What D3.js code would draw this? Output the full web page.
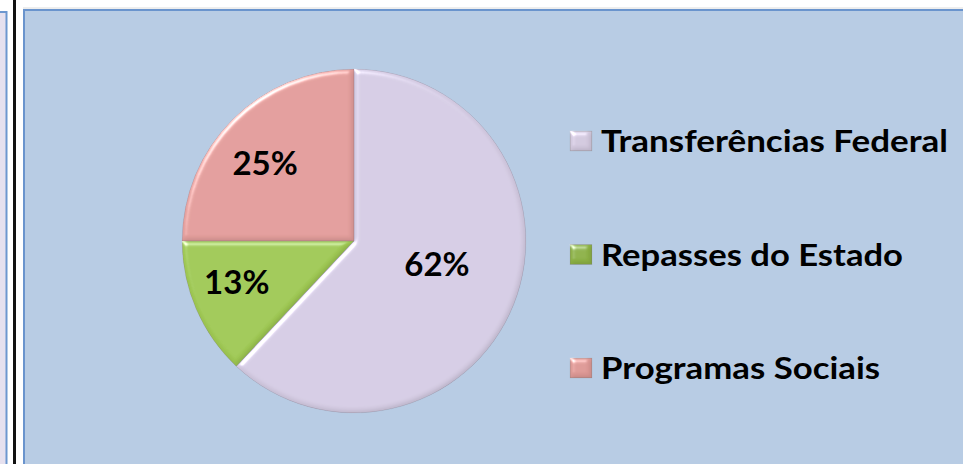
<!DOCTYPE html>
<html>
<head>
<meta charset="utf-8">
<script src="https://cdn.jsdelivr.net/npm/d3@7"></script>
<style>
  html, body { margin: 0; padding: 0; background: #ffffff; }
  svg { display: block; }
  text { font-family: Lato, "Open Sans", sans-serif; font-weight: 700; }
</style>
</head>
<body>
<div id="chart"></div>
<script>
// chart data
const categories = ["Transferências Federal", "Repasses do Estado", "Programas Sociais"]
const values = [62, 13, 25]
const percentLabels = ["62%", "13%", "25%"]
const sliceColors = ["#d9d0e8", "#a2cc55", "#e6a09e"]
const legendColors = ["#d6cce2", "#8fb446", "#e19b98"]

const width = 963
const height = 464

const svg = d3.select("#chart").append("svg")
  .attr("width", width)
  .attr("height", height)

const defs = svg.append("defs")

// bevel look like the office chart style: light on upper-left edges only
const bevel = defs.append("filter").attr("id", "bevel")
  .attr("x", "-5%").attr("y", "-5%").attr("width", "110%").attr("height", "110%")
bevel.append("feGaussianBlur").attr("in", "SourceAlpha").attr("stdDeviation", 2.5).attr("result", "blur")
const spec = bevel.append("feSpecularLighting")
  .attr("in", "blur").attr("surfaceScale", 3).attr("specularConstant", 0.7)
  .attr("specularExponent", 30).attr("lighting-color", "#ffffff").attr("result", "spec")
spec.append("feDistantLight").attr("azimuth", 235).attr("elevation", 35)
bevel.append("feComposite").attr("in", "spec").attr("in2", "SourceAlpha").attr("operator", "in").attr("result", "specOut")
// darker rim on the far side
const diff = bevel.append("feDiffuseLighting")
  .attr("in", "blur").attr("surfaceScale", 3).attr("diffuseConstant", 1)
  .attr("lighting-color", "#ffffff").attr("result", "diff")
diff.append("feDistantLight").attr("azimuth", 235).attr("elevation", 60)
bevel.append("feComposite").attr("in", "diff").attr("in2", "SourceGraphic")
  .attr("operator", "arithmetic").attr("k1", 0.35).attr("k2", 0).attr("k3", 0.65).attr("k4", 0).attr("result", "shaded")
bevel.append("feComposite").attr("in", "shaded").attr("in2", "SourceAlpha").attr("operator", "in").attr("result", "shadedIn")
bevel.append("feComposite").attr("in", "shadedIn").attr("in2", "specOut")
  .attr("operator", "arithmetic").attr("k1", 0).attr("k2", 1).attr("k3", 1).attr("k4", 0)

// page frame bits on the left
svg.append("rect").attr("x", -10).attr("y", 12).attr("width", 16.5).attr("height", height)
  .attr("fill", "#e6e1ef").attr("stroke", "#6d97cf").attr("stroke-width", 2)
svg.append("line").attr("x1", 14.5).attr("x2", 14.5).attr("y1", 0).attr("y2", height)
  .attr("stroke", "#111111").attr("stroke-width", 3)

// chart area
svg.append("line").attr("x1", 23).attr("x2", width).attr("y1", 8).attr("y2", 8)
  .attr("stroke", "#dcdcdc").attr("stroke-width", 1)
svg.append("rect").attr("x", 24).attr("y", 10).attr("width", width + 20).attr("height", height)
  .attr("fill", "#b8cce4").attr("stroke", "#6a94cd").attr("stroke-width", 2)

// pie
const cx = 354, cy = 241, radius = 172

const pie = d3.pie().sort(null).value(d => d)
const arc = d3.arc().innerRadius(0).outerRadius(radius)
const arcs = pie(values)

const g = svg.append("g").attr("transform", `translate(${cx}, ${cy})`)

g.selectAll("path.slice")
  .data(arcs)
  .enter()
  .append("path")
    .attr("class", "slice")
    .attr("d", arc)
    .attr("fill", (d, i) => sliceColors[i])
    .attr("stroke", "#7d6f80")
    .attr("stroke-opacity", 0.35)
    .attr("stroke-width", 1)
    .attr("filter", "url(#bevel)")

// label distance from centre, as fraction of radius, plus small nudge
const labelRadius = [0.5, 0.73, 0.69]
const labelShift = [[3, -9], [-2, -9], [-5, 6]]

g.selectAll("text.pct")
  .data(arcs)
  .enter()
  .append("text")
    .attr("class", "pct")
    .attr("transform", (d, i) => {
      const r = radius * labelRadius[i]
      const c = d3.arc().innerRadius(r).outerRadius(r).centroid(d)
      return `translate(${c[0] + labelShift[i][0]}, ${c[1] + labelShift[i][1]})`
    })
    .attr("text-anchor", "middle")
    .attr("dy", "0.36em")
    .style("font-size", "33px")
    .attr("fill", "#000000")
    .text((d, i) => percentLabels[i])

// legend
const legendY = d3.scalePoint().domain(categories).range([141, 368])

const legend = svg.selectAll("g.legend")
  .data(categories)
  .enter()
  .append("g")
    .attr("class", "legend")
    .attr("transform", d => `translate(570, ${legendY(d)})`)

legend.append("rect")
  .attr("x", 0).attr("y", -10).attr("width", 22).attr("height", 20)
  .attr("fill", (d, i) => legendColors[i])
  .attr("stroke", "#7f7f7f").attr("stroke-opacity", 0.5)
  .attr("filter", "url(#bevel)")

const legendWidths = [347, 302, 279]

legend.append("text")
  .attr("x", 31)
  .attr("y", 11)
  .style("font-size", "30px")
  .attr("textLength", (d, i) => legendWidths[i])
  .attr("lengthAdjust", "spacingAndGlyphs")
  .text(d => d)
</script>
</body>
</html>
